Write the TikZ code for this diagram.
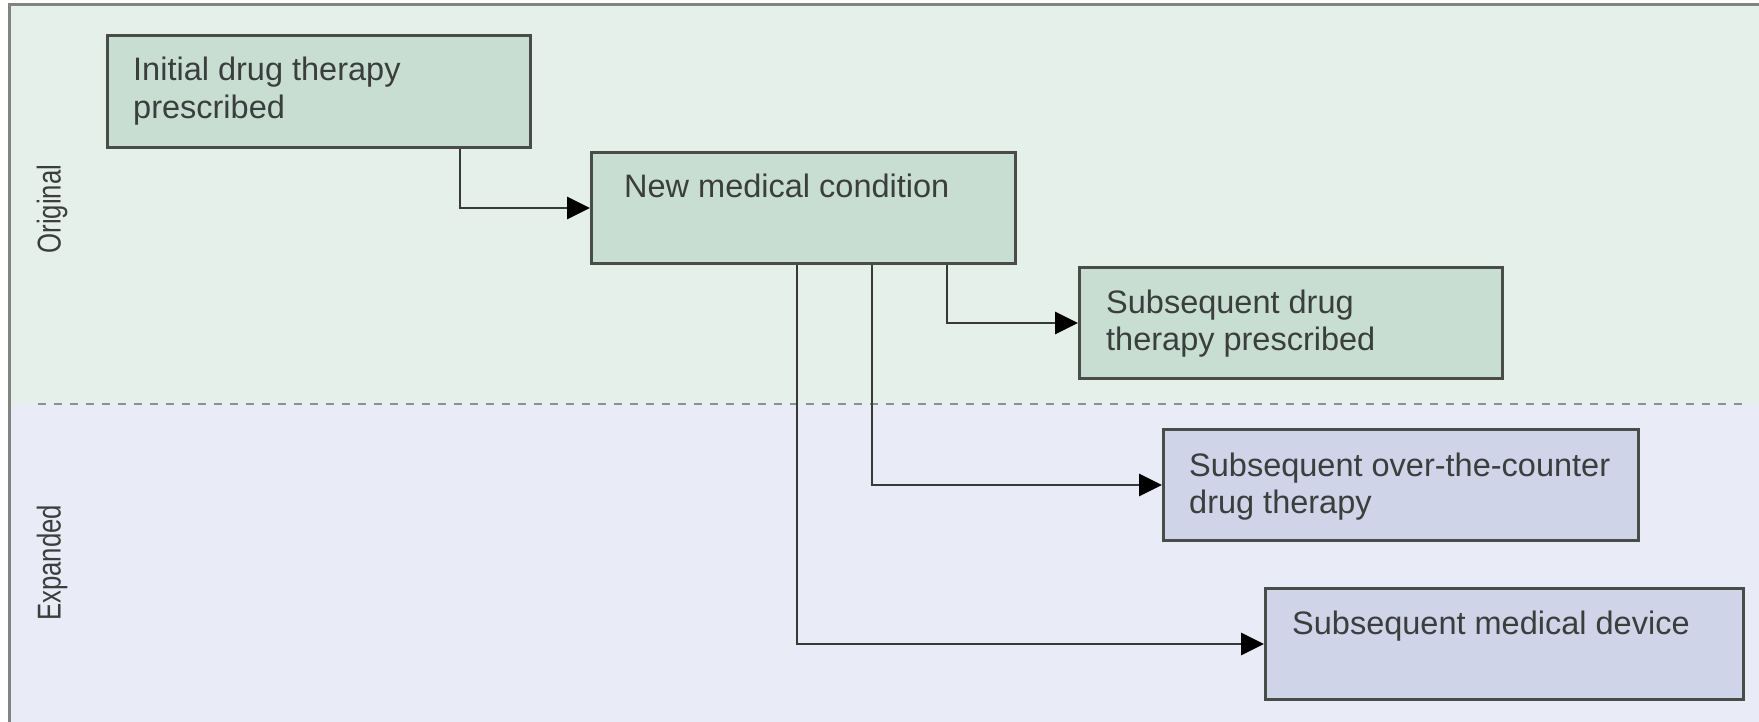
\documentclass[tikz,border=0pt]{standalone}
\usepackage{fontspec}
\usepackage{graphicx}
\setmainfont{Liberation Sans}
\usetikzlibrary{arrows.meta}
\definecolor{bggreen}{RGB}{230,240,234}
\definecolor{bgblue}{RGB}{233,236,246}
\definecolor{boxgreen}{RGB}{201,222,211}
\definecolor{boxblue}{RGB}{207,212,232}
\definecolor{boxline}{RGB}{72,77,74}
\definecolor{connline}{RGB}{55,58,56}
\definecolor{framegray}{RGB}{128,133,130}
\definecolor{dashgray}{RGB}{140,145,142}
\definecolor{txt}{RGB}{58,62,60}
\tikzset{
  box/.style={draw=boxline, line width=3pt, inner sep=0pt, anchor=north west, minimum height=111pt},
  gbox/.style={box, fill=boxgreen},
  bbox/.style={box, fill=boxblue},
  btext/.style={anchor=base west, inner sep=0pt, align=left, text=txt, font=\fontsize{32.5}{37.5}\selectfont},
  conn/.style={draw=connline, line width=2.8pt, -{Triangle[length=23pt,width=22pt,black]}},
  sidelabel/.style={rotate=90, inner sep=0pt, text=txt, font=\fontsize{33}{38}\selectfont}
}
\begin{document}
\begin{tikzpicture}[x=1pt,y=-1pt]
\useasboundingbox (0,0) rectangle (1759,722);
% backgrounds
\fill[bggreen] (9,5) rectangle (1759,404);
\fill[bgblue] (9,404) rectangle (1759,722);
\draw[dashgray, line width=2.5pt, dash pattern=on 8pt off 8pt] (38,404) -- (1742,404);
\draw[framegray, line width=3pt] (9,722) -- (9,5) -- (1759,5);
% side labels
\node[sidelabel] (lorig) at (52,209) {\scalebox{0.78}[1]{Original}};
\node[sidelabel] (lexp) at (52,563) {\scalebox{0.78}[1]{Expanded}};
% boxes
\node[gbox, minimum width=423pt, minimum height=112pt] (b1) at (106,34) {};
\node[gbox, minimum width=424pt] (b2) at (590,151) {};
\node[gbox, minimum width=423pt] (b3) at (1078,266) {};
\node[bbox, minimum width=475pt] (b4) at (1162,428) {};
\node[bbox, minimum width=478pt] (b5) at (1264,587) {};
% texts (base = baseline of the last line)
\node[btext] (t1) at (133,118.5) {Initial drug therapy\\prescribed};
\node[btext] (t2) at (624,198) {New medical condition};
\node[btext] (t3) at (1106,350.5) {Subsequent drug\\therapy prescribed};
\node[btext] (t4) at (1189,513.5) {Subsequent over-the-counter\\drug therapy};
\node[btext] (t5) at (1292,634) {Subsequent medical device};
% connectors
\draw[conn] (460,0 |- b1.south) |- (b2.west);
\draw[conn] (947,0 |- b2.south) |- (b3.west);
\draw[conn] (872,0 |- b2.south) |- (b4.west);
\draw[conn] (797,0 |- b2.south) |- (b5.west);
\end{tikzpicture}
\end{document}
